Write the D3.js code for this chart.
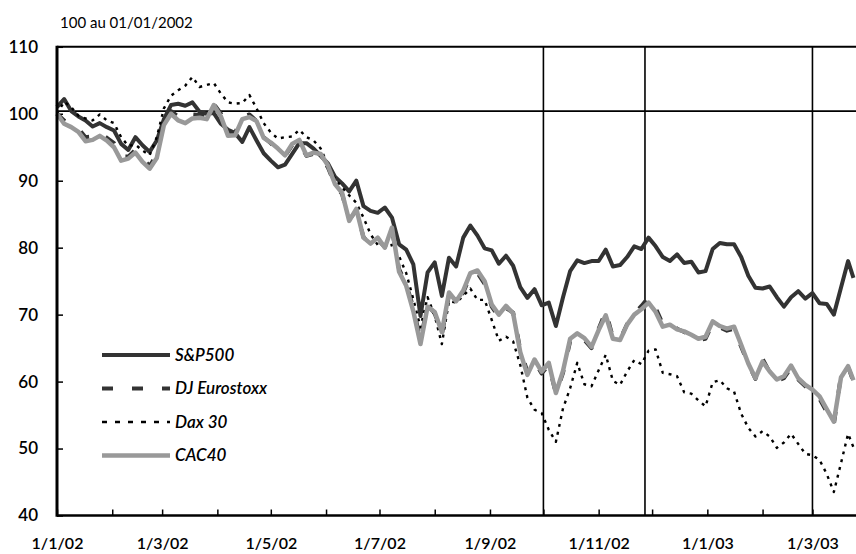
<!DOCTYPE html>
<html><head><meta charset="utf-8">
<script src="https://cdn.jsdelivr.net/npm/d3@7"></script>
<style>body{margin:0;background:#fff}svg{display:block}</style>
</head><body><svg id="c" width="856" height="554"></svg>
<script>
const dates = ["2002-01-01","2002-01-05","2002-01-09","2002-01-13","2002-01-17","2002-01-21","2002-01-25","2002-01-29","2002-02-02","2002-02-06",
"2002-02-10","2002-02-14","2002-02-18","2002-02-22","2002-02-26","2002-03-02","2002-03-06","2002-03-10","2002-03-14","2002-03-18",
"2002-03-22","2002-03-26","2002-03-30","2002-04-03","2002-04-07","2002-04-11","2002-04-15","2002-04-19","2002-04-23","2002-04-27",
"2002-05-01","2002-05-05","2002-05-09","2002-05-13","2002-05-17","2002-05-21","2002-05-25","2002-05-29","2002-06-02","2002-06-06",
"2002-06-10","2002-06-14","2002-06-18","2002-06-22","2002-06-26","2002-06-30","2002-07-04","2002-07-08","2002-07-12","2002-07-16",
"2002-07-20","2002-07-24","2002-07-28","2002-08-01","2002-08-05","2002-08-09","2002-08-13","2002-08-17","2002-08-21","2002-08-25",
"2002-08-29","2002-09-02","2002-09-06","2002-09-10","2002-09-14","2002-09-18","2002-09-22","2002-09-26","2002-09-30","2002-10-04",
"2002-10-08","2002-10-12","2002-10-16","2002-10-20","2002-10-24","2002-10-28","2002-11-01","2002-11-05","2002-11-09","2002-11-13",
"2002-11-17","2002-11-21","2002-11-25","2002-11-29","2002-12-03","2002-12-07","2002-12-11","2002-12-15","2002-12-19","2002-12-23",
"2002-12-27","2002-12-31","2003-01-04","2003-01-08","2003-01-12","2003-01-16","2003-01-20","2003-01-24","2003-01-28","2003-02-01",
"2003-02-05","2003-02-09","2003-02-13","2003-02-17","2003-02-21","2003-02-25","2003-03-01","2003-03-05","2003-03-09","2003-03-13",
"2003-03-17","2003-03-21","2003-03-24"];

const sp500 = [101,102.2,100.4,99.6,99,98.1,98.6,98,97.5,95.5,
94.6,96.5,95.3,94.3,96,99.2,101.3,101.5,101.2,101.7,
100.3,100,100.1,98.5,97.6,97.1,95.8,98,96,94.1,
93,92,92.4,94,95.6,95.6,94.8,93.7,92.6,90.6,
89.6,88.4,90,86.2,85.5,85.2,86,84.5,80.5,79.7,
77.5,69.8,76.3,77.8,72.8,78.5,77.2,81.5,83.3,81.8,
79.9,79.6,77.6,78.8,77.3,74.1,72.5,73.8,71.4,71.8,
68.3,72.6,76.5,78.1,77.7,78,78,79.7,77.2,77.4,
78.6,80.2,79.8,81.5,80.2,78.6,78,79,77.7,77.9,
76.3,76.5,79.8,80.7,80.5,80.5,78.6,75.8,74,73.9,
74.2,72.6,71.2,72.6,73.5,72.4,73.2,71.7,71.6,70,
74,78,75.5];

const eurostoxx = [100,99,98.4,97.8,96.5,96.6,97.2,96.4,95.6,93.6,
93.6,94.6,93.3,92.2,93.9,98.8,100.4,99.6,99.2,99.9,
99.8,99.6,101.5,100,97.2,97.2,99.5,99.9,98.9,96.5,
95.6,94.6,93.7,95.3,95.8,93.7,94,93.6,92,89.4,
88,84.2,85.5,81.6,80.4,81.2,80.1,82.6,76.8,74.6,
71,66.2,71.4,70.2,67,72.9,71.7,73.3,75.8,76.2,
74.6,71.2,69.6,71,70.3,64.8,61.5,63,61.2,62.5,
58.2,61.3,66,67,66.2,65,67.9,70.5,66.6,66.3,
68.6,70.2,71.3,72.6,71,68.6,68.7,67.9,67.4,66.9,
66.2,66.4,68.7,68.1,67.6,67.9,65.2,62.6,60.4,63.4,
61.4,60.1,60.5,62.1,60.3,59.3,58.4,57.4,55.5,53.6,
60.9,62.2,60];

const dax30 = [100,101.8,101,99.7,99.3,99,99.9,99,98.6,96.5,
95.2,95.4,94.5,93.8,96.5,100.8,102.7,103.5,104.2,105.5,
104,104.3,104.6,103,101.7,101.5,101.6,102.8,100.8,98.6,
97.2,96.3,96.5,96.6,97.6,96.5,96,94.8,92.4,90.3,
89,87.8,86.7,84.5,82,80.4,80.2,80.4,78.7,76.2,
72.3,68.1,72.6,69.8,65.6,72,71.8,72.8,73.9,72.2,
72.2,69.2,66.1,66.7,66,62.5,57.6,55.8,55.3,52.8,
51,56,59,62.8,59.6,59.3,61.7,64,60.1,59.5,
61.5,63.2,62.6,64.6,64.8,61.3,61.1,60.8,58.4,58.2,
57.2,56.3,59.9,60.2,59,58.5,55.2,53.1,51.8,52.6,
51.8,50.1,50.9,52.2,50.7,49.2,49,48.3,46.2,43.5,
47.8,52.2,50.2];

const cac40 = [100,98.5,98,97.3,95.9,96.1,96.7,96,95,93,
93.3,94.2,92.8,91.8,93.4,98.3,100,99,98.6,99.3,
99.4,99.2,101.3,99.6,96.7,96.8,99.2,99.5,98.9,96.4,
95.7,94.8,93.8,95.5,96.1,93.8,94.2,94,92.3,89.5,
88.2,84,85.8,81.5,80.6,81.5,80,83,76.4,74.3,
70.5,65.6,71.2,70.4,67.4,73.3,72,73.6,76.2,76.6,
75,71.5,70,71.3,70.2,64.4,61,63.3,61.5,62.8,
58.3,61.6,66.4,67.2,66.5,65.2,67.7,69.9,66.4,66.2,
68.5,70,70.8,71.8,70.4,68.2,68.5,67.8,67.5,67,
66.4,66.7,69,68.3,67.9,68.2,65.5,62.7,60.5,63,
61.5,60.3,60.8,62.4,60.5,59.5,58.8,57.8,55.9,54,
60.6,62.3,60.2];

const seriesNames = ["S&P500","DJ Eurostoxx","Dax 30","CAC40"];
const yTicks = [40,50,60,70,80,90,100,110];
const markerDates = ["2002-10-01","2002-11-27","2003-03-01"];
const refLevel = 100.4;
const titleText = "100 au 01/01/2002";

const parse = d3.timeParse("%Y-%m-%d");
const svg = d3.select("#c");
const FONT = "Lato, 'Open Sans', sans-serif";
const L = 57, R = 857;

const x = d3.scaleTime().domain([parse("2002-01-01"), parse("2003-03-26")]).range([L, R]);
const y = d3.scaleLinear().domain([40, 110]).range([515.5, 46.8]);
const dd = dates.map(parse);

// title
svg.append("text").attr("x", 60).attr("y", 28).attr("font-family", FONT)
  .attr("font-size", 15).attr("fill", "#000").text(titleText);

// y axis ticks & labels
const gy = svg.append("g").attr("transform", `translate(${L},0)`)
  .call(d3.axisLeft(y).tickValues(yTicks).tickSizeInner(-6).tickSizeOuter(0).tickPadding(19).tickFormat(d3.format("d")));
gy.select(".domain").remove();
gy.selectAll(".tick line").attr("stroke", "#000").attr("stroke-width", 1.5);
gy.selectAll(".tick text").attr("font-family", FONT).attr("font-size", 17).attr("font-weight", 600).attr("fill", "#000");

// x axis
const fmt = d3.timeFormat("%-d/%-m/%y");
const gx = svg.append("g").attr("transform", `translate(0,${y(40)})`)
  .call(d3.axisBottom(x).ticks(d3.timeMonth.every(1)).tickSizeInner(-6).tickSizeOuter(0).tickPadding(22)
    .tickFormat(d => d.getMonth() % 2 === 0 ? fmt(d) : ""));
gx.select(".domain").remove();
gx.selectAll(".tick line").attr("stroke", "#000").attr("stroke-width", 1.5);
gx.selectAll(".tick text").attr("font-family", FONT).attr("font-size", 16).attr("font-weight", 600).attr("fill", "#000");

// frame lines
svg.append("line").attr("x1", L).attr("x2", 856).attr("y1", y(110)).attr("y2", y(110)).attr("stroke", "#000").attr("stroke-width", 2);
svg.append("line").attr("x1", L).attr("x2", 856).attr("y1", y(refLevel)).attr("y2", y(refLevel)).attr("stroke", "#000").attr("stroke-width", 1.6);
markerDates.forEach(m => {
  svg.append("line").attr("x1", x(parse(m))).attr("x2", x(parse(m))).attr("y1", y(110)).attr("y2", y(40))
    .attr("stroke", "#000").attr("stroke-width", 1.6);
});

const series = [
  {vals: sp500, color: "#333", width: 4, dash: null, ldash: null},
  {vals: eurostoxx, color: "#333", width: 4, dash: "11,19", ldash: "11,19"},
  {vals: dax30, color: "#000", width: 2.4, dash: "3,5", ldash: "5,8"},
  {vals: cac40, color: "#999", width: 4.5, dash: null, ldash: null}
];

const line = d3.line().x((d, i) => x(dd[i])).y(d => y(d));
series.forEach(s => {
  svg.append("path").attr("d", line(s.vals)).attr("fill", "none").attr("stroke", s.color)
    .attr("stroke-width", s.width).attr("stroke-linejoin", "round").attr("stroke-dasharray", s.dash);
});

// axes lines on top
svg.append("line").attr("x1", L).attr("x2", L).attr("y1", y(110) - 1).attr("y2", y(40) + 1.2).attr("stroke", "#000").attr("stroke-width", 3);
svg.append("line").attr("x1", L).attr("x2", 856).attr("y1", y(40)).attr("y2", y(40)).attr("stroke", "#000").attr("stroke-width", 2.5);

// legend
const legY = [355, 388.5, 422, 455.5];
series.forEach((s, i) => {
  svg.append("line").attr("x1", 102).attr("x2", 170).attr("y1", legY[i]).attr("y2", legY[i])
    .attr("stroke", s.color).attr("stroke-width", s.width).attr("stroke-dasharray", s.ldash);
  svg.append("text").attr("x", 175).attr("y", legY[i]).attr("dy", "0.35em")
    .attr("font-family", FONT).attr("font-size", 17).attr("font-style", "italic").attr("font-weight", 600)
    .attr("fill", "#000").text(seriesNames[i]);
});
</script></body></html>
